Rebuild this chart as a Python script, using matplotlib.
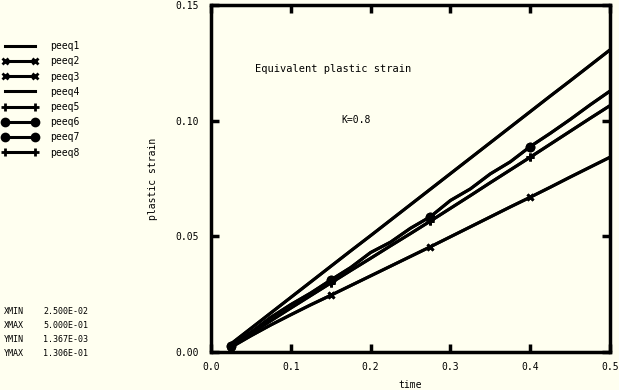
import matplotlib.pyplot as plt

plt.rcParams['font.family'] = 'DejaVu Sans Mono'

# 数据
time = [0.025, 0.05, 0.075, 0.1, 0.125, 0.15, 0.175, 0.2, 0.225, 0.25,
        0.275, 0.3, 0.325, 0.35, 0.375, 0.4, 0.425, 0.45, 0.475, 0.5]
peeq1 = [0.0035, 0.0102, 0.0169, 0.0236, 0.0303, 0.0370, 0.0437, 0.0503, 0.0570, 0.0637,
         0.0704, 0.0771, 0.0838, 0.0905, 0.0972, 0.1039, 0.1106, 0.1172, 0.1239, 0.1306]
peeq2 = [0.0020, 0.0070, 0.0117, 0.0161, 0.0204, 0.0245, 0.0287, 0.0329, 0.0371, 0.0413,
         0.0455, 0.0498, 0.0541, 0.0584, 0.0627, 0.0669, 0.0712, 0.0756, 0.0799, 0.0842]
peeq3 = peeq2
peeq4 = peeq1
peeq5 = [0.0025, 0.0080, 0.0135, 0.0190, 0.0244, 0.0298, 0.0352, 0.0405, 0.0459, 0.0512,
         0.0566, 0.0621, 0.0676, 0.0732, 0.0787, 0.0842, 0.0898, 0.0954, 0.1010, 0.1065]
peeq6 = [0.0025, 0.0085, 0.0150, 0.0205, 0.0255, 0.0311, 0.0365, 0.0430, 0.0475, 0.0535,
         0.0585, 0.0655, 0.0705, 0.0770, 0.0822, 0.0888, 0.0945, 0.1005, 0.1068, 0.1128]
peeq7 = peeq6
peeq8 = peeq5

series = [("peeq1", peeq1, None), ("peeq2", peeq2, 'x'), ("peeq3", peeq3, 'x'),
          ("peeq4", peeq4, None), ("peeq5", peeq5, '+'), ("peeq6", peeq6, 'o'),
          ("peeq7", peeq7, 'o'), ("peeq8", peeq8, '+')]

bg = '#fffff0'
fig = plt.figure(figsize=(6.19, 3.9), dpi=100, facecolor=bg)
ax = fig.add_axes([211/619, 1-352/390, 399/619, 347/390], facecolor=bg)

handles = []
for name, vals, mk in series:
    ms = {'x': 5, '+': 6, 'o': 5}.get(mk, 0)
    ln, = ax.plot(time, vals, color='black', lw=2.2, marker=mk, markersize=ms,
                  markeredgewidth=2, markevery=5, label=name)
    handles.append(ln)

ax.set_xlim(0, 0.5)
ax.set_ylim(0, 0.15)
ax.set_xticks([0.0, 0.1, 0.2, 0.3, 0.4, 0.5])
ax.set_yticks([0.0, 0.05, 0.10, 0.15])
ax.set_xticklabels(['0.0', '0.1', '0.2', '0.3', '0.4', '0.5'])
ax.set_yticklabels(['0.00', '0.05', '0.10', '0.15'])
ax.tick_params(direction='in', length=6, width=2.5, labelsize=7,
               top=True, right=True)
ax.tick_params(axis='y', pad=9)
ax.tick_params(axis='x', pad=7)
for sp in ax.spines.values():
    sp.set_linewidth(2.5)

ax.set_xlabel('time', fontsize=7, labelpad=6)
ax.set_ylabel('plastic strain', fontsize=7, labelpad=12)

ax.text(0.11, 0.816, 'Equivalent plastic strain', transform=ax.transAxes,
        fontsize=7.5, va='center', ha='left')
ax.text(0.328, 0.669, 'K=0.8', transform=ax.transAxes,
        fontsize=7, va='center', ha='left')

fig.legend(handles=handles, loc='upper left', bbox_to_anchor=(2/619, 1-41/390),
           numpoints=2, frameon=False, handlelength=3.7, handletextpad=1.2,
           labelspacing=0.54, fontsize=7, borderpad=0, borderaxespad=0)

info = [("XMIN", "2.500E-02", 312), ("XMAX", "5.000E-01", 325),
        ("YMIN", "1.367E-03", 340), ("YMAX", "1.306E-01", 353)]
for k, v, py in info:
    fig.text(4/619, 1-py/390, k, fontsize=6, va='center', ha='left')
    fig.text(43/619, 1-py/390, v, fontsize=6, va='center', ha='left')

fig.savefig('out.png', dpi=100, facecolor=bg)
